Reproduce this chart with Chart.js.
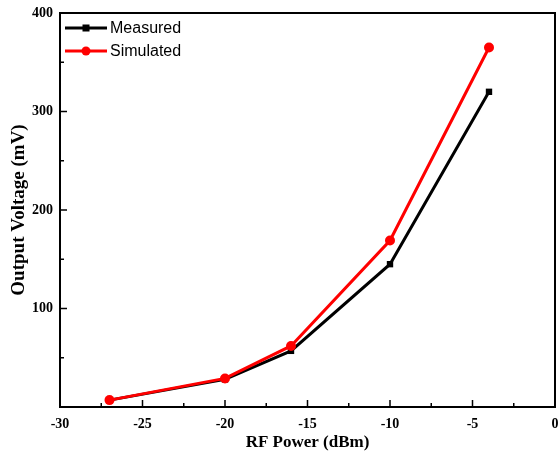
<!DOCTYPE html>
<html>
<head>
<meta charset="utf-8">
<script src="https://cdn.jsdelivr.net/npm/chart.js@4.4.1/dist/chart.umd.min.js"></script>
<style>
  html, body { margin: 0; padding: 0; background: #fff; }
  #wrap { width: 560px; height: 453px; position: relative; }
</style>
</head>
<body>
<div id="wrap"><canvas id="c" width="560" height="453"></canvas></div>
<script>
const rfPower = [-27, -20, -16, -10, -4];
const measured = [7, 28, 57, 145, 320];
const simulated = [7, 29, 62, 169, 365];
const xTicks = [-30, -25, -20, -15, -10, -5, 0];
const yTicks = [100, 200, 300, 400];
const seriesNames = ['Measured', 'Simulated'];
const xTitle = 'RF Power (dBm)';
const yTitle = 'Output Voltage (mV)';

const serif = "'Liberation Serif', 'Times New Roman', serif";
const sans = "'Liberation Sans', Arial, sans-serif";

const frame = {
  id: 'frame',
  afterDatasetsDraw(chart) {
    const {ctx, chartArea: a, scales: {x, y}} = chart;
    ctx.save();
    ctx.strokeStyle = '#000';
    ctx.lineWidth = 2;
    ctx.strokeRect(a.left, a.top, a.right - a.left, a.bottom - a.top);
    ctx.lineWidth = 1.5;
    ctx.beginPath();
    for (let v = -30; v <= 0; v += 2.5) {
      const px = x.getPixelForValue(v);
      const len = (v % 5 === 0) ? 7 : 4;
      ctx.moveTo(px, a.bottom); ctx.lineTo(px, a.bottom - len);
    }
    for (let v = 0; v <= 400; v += 50) {
      const py = y.getPixelForValue(v);
      const len = (v % 100 === 0) ? 7 : 4;
      ctx.moveTo(a.left, py); ctx.lineTo(a.left + len, py);
    }
    ctx.stroke();
    chart.data.datasets.forEach((ds, i) => {
      const yy = a.top + 15 + i * 23;
      const x0 = a.left + 5, x1 = a.left + 47;
      ctx.strokeStyle = ds.borderColor;
      ctx.lineWidth = 3;
      ctx.beginPath(); ctx.moveTo(x0, yy); ctx.lineTo(x1, yy); ctx.stroke();
      ctx.fillStyle = ds.backgroundColor;
      const cx = (x0 + x1) / 2;
      if (ds.pointStyle === 'rect') {
        ctx.fillRect(cx - 3.5, yy - 3.5, 7, 7);
      } else {
        ctx.beginPath(); ctx.arc(cx, yy, 4.5, 0, Math.PI * 2); ctx.fill();
      }
      ctx.fillStyle = '#000';
      ctx.font = '16px ' + sans;
      ctx.textBaseline = 'middle';
      ctx.textAlign = 'left';
      ctx.fillText(ds.label, x1 + 3, yy + 1);
    });
    ctx.restore();
  }
};

new Chart(document.getElementById('c'), {
  type: 'line',
  data: {
    datasets: [
      {
        label: seriesNames[0],
        data: rfPower.map((v, i) => ({x: v, y: measured[i]})),
        borderColor: '#000000',
        backgroundColor: '#000000',
        borderWidth: 3,
        pointStyle: 'rect',
        pointRadius: 4.5,
        pointBorderWidth: 0,
        tension: 0,
        order: 2
      },
      {
        label: seriesNames[1],
        data: rfPower.map((v, i) => ({x: v, y: simulated[i]})),
        borderColor: '#ff0000',
        backgroundColor: '#ff0000',
        borderWidth: 3,
        pointStyle: 'circle',
        pointRadius: 5,
        pointBorderWidth: 0,
        tension: 0,
        order: 1
      }
    ]
  },
  options: {
    responsive: false,
    animation: false,
    layout: { padding: { top: 13, right: 4, left: 8, bottom: 0 } },
    plugins: { legend: { display: false }, tooltip: { enabled: false } },
    scales: {
      x: {
        type: 'linear',
        min: -30, max: 0,
        afterBuildTicks(s) { s.ticks = xTicks.map(v => ({value: v})); },
        afterFit(s) { s.height = 46; s.paddingLeft = 0; s.paddingRight = 0; },
        grid: { display: false, drawTicks: false },
        border: { display: false },
        ticks: {
          color: '#000',
          font: { family: serif, size: 14, weight: 'bold' },
          padding: 9,
          maxRotation: 0
        },
        title: {
          display: true, text: xTitle, color: '#000',
          font: { family: serif, size: 17, weight: 'bold' },
          padding: { top: 0, bottom: 0 }
        }
      },
      y: {
        type: 'linear',
        min: 0, max: 400,
        afterBuildTicks(s) { s.ticks = yTicks.map(v => ({value: v})); },
        afterFit(s) { s.width = 52; s.paddingTop = 0; s.paddingBottom = 0; },
        grid: { display: false, drawTicks: false },
        border: { display: false },
        ticks: {
          color: '#000',
          font: { family: serif, size: 14, weight: 'bold' },
          padding: 7
        },
        title: {
          display: true, text: yTitle, color: '#000',
          font: { family: serif, size: 19, weight: 'bold' },
          padding: { top: 0, bottom: 2 }
        }
      }
    }
  },
  plugins: [frame]
});
</script>
</body>
</html>
